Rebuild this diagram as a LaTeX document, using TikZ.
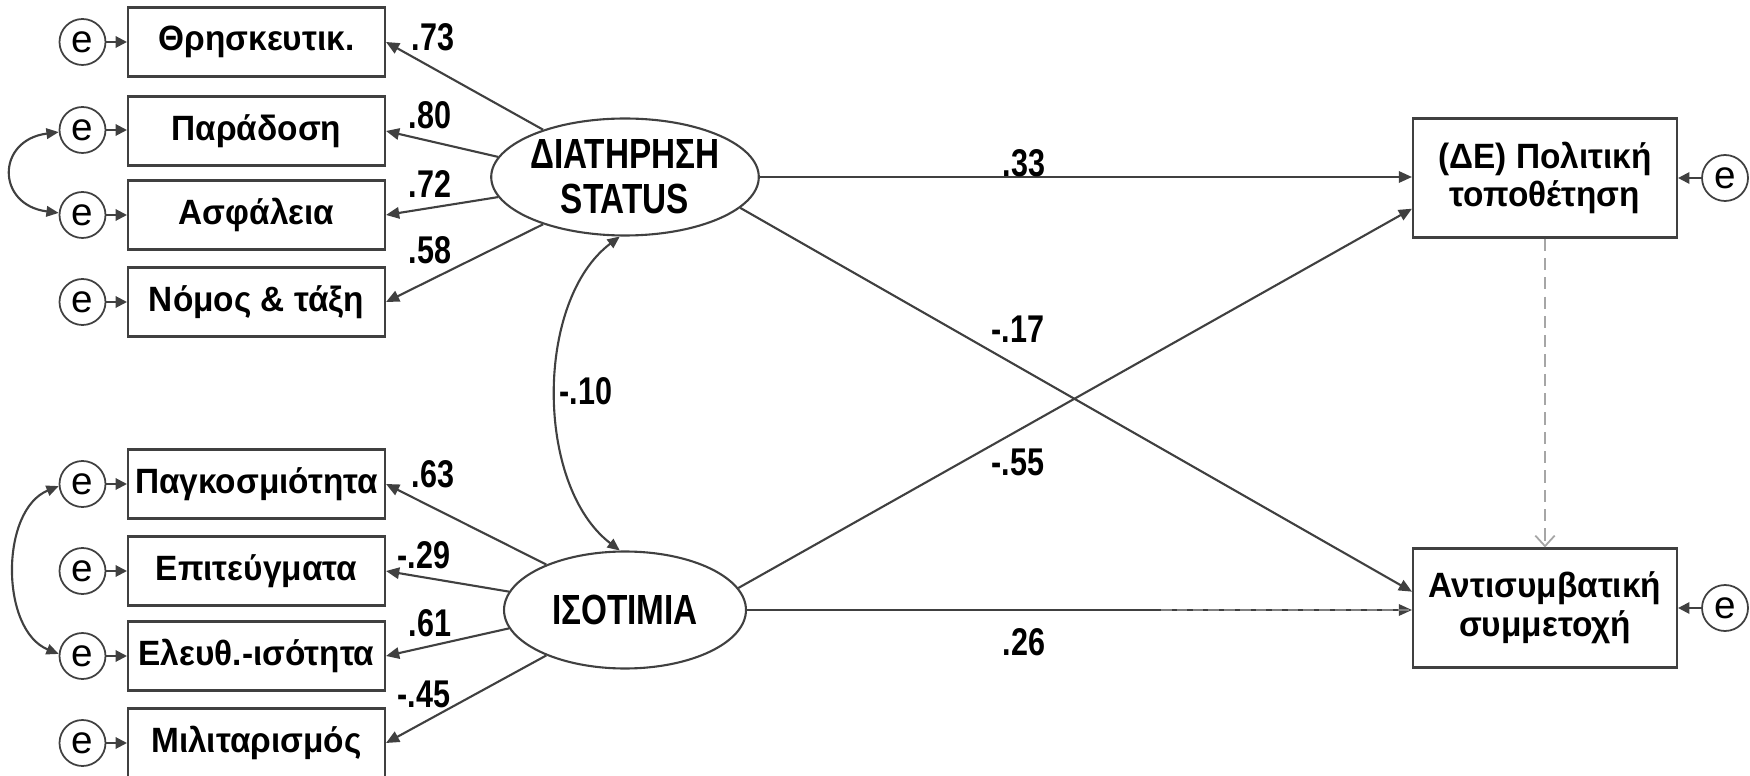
\documentclass[tikz,border=0pt]{standalone}
\usepackage{fontspec}
\setmainfont{Liberation Sans}
\newfontfamily\boxfont{Liberation Sans}[FakeStretch=0.95]
\newfontfamily\narrowfont{Liberation Sans}[FakeStretch=0.79]
\usetikzlibrary{arrows.meta,shapes.geometric}
\definecolor{ln}{HTML}{404040}
\definecolor{dg}{HTML}{A6A6A6}
\begin{document}
\begin{tikzpicture}[x=0.02cm,y=-0.02cm,
  obs/.style={draw=ln, line width=1.2pt, minimum width=5.14cm, minimum height=1.38cm, inner sep=0pt, font=\boxfont\fontsize{20}{22}\selectfont\bfseries},
  lat/.style={ellipse, draw=ln, line width=1.2pt, minimum width=4.84cm, minimum height=2.34cm, inner sep=0pt, align=center, font=\narrowfont\fontsize{24}{25.6}\selectfont\bfseries},
  dep/.style={draw=ln, line width=1.2pt, minimum width=5.28cm, minimum height=2.38cm, inner sep=0pt, align=center, font=\boxfont\fontsize{20}{22}\selectfont\bfseries},
  err/.style={circle, draw=ln, line width=1pt, minimum size=0.92cm, inner sep=0pt, font=\fontsize{22}{22}\selectfont},
  pth/.style={draw=ln, line width=1.2pt, -{Triangle[length=7.5pt,width=6.5pt]}},
  spth/.style={draw=ln, line width=1.2pt, -{Triangle[length=6.5pt,width=6.5pt]}},
  cov/.style={draw=ln, line width=1.2pt, {Triangle[length=7pt,width=6pt]}-{Triangle[length=7pt,width=6pt]}},
  coef/.style={font=\narrowfont\fontsize{22}{22}\selectfont\bfseries, inner sep=0pt}
]
\useasboundingbox (0,0) rectangle (1750,776);

% observed indicators
\node[obs] (b1) at (256.5,42) {Θρησκευτικ.};
\node[obs] (b2) at (256.5,131) {Παράδοση};
\node[obs] (b3) at (256.5,215) {Ασφάλεια};
\node[obs] (b4) at (256.5,302) {Νόμος \& τάξη};
\node[obs] (b5) at (256.5,484) {Παγκοσμιότητα};
\node[obs] (b6) at (256.5,571) {Επιτεύγματα};
\node[obs] (b7) at (256.5,656) {Ελευθ.-ισότητα};
\node[obs] (b8) at (256.5,743) {Μιλιταρισμός};

% error terms left
\foreach \i/\y in {1/42,2/130,3/215,4/302,5/484,6/571,7/656,8/743}{
  \node[err] (e\i) at (82.5,\y) {e};
  \draw[spth] (e\i.east) -- (e\i.east -| b\i.west);
}

% latent variables
\node[lat] (l1) at (625,177) {ΔΙΑΤΗΡΗΣΗ\\STATUS};
\node[lat] (l2) at (625,610) {ΙΣΟΤΙΜΙΑ};

% dependent variables
\node[dep] (de) at (1545,178) {(ΔΕ) Πολιτική\\τοποθέτηση};
\node[dep] (an) at (1545,608) {Αντισυμβατική\\συμμετοχή};
\node[err] (r1) at (1725,178) {e};
\node[err] (r2) at (1725,608) {e};
\draw[spth] (r1.west) -- (de.east);
\draw[spth] (r2.west) -- (an.east);

% loadings
\draw[pth] (l1.150) -- (b1.east);
\draw[pth] (l1.171) -- (b2.east);
\draw[pth] (l1.189) -- (b3.east);
\draw[pth] (l1.210) -- (b4.east);
\draw[pth] (l2.150) -- (b5.east);
\draw[pth] (l2.171) -- (b6.east);
\draw[pth] (l2.189) -- (b7.east);
\draw[pth] (l2.210) -- (b8.east);

\node[coef] (c1) at (433,37) {.73};
\node[coef] (c2) at (430,115) {.80};
\node[coef] (c3) at (430,184) {.72};
\node[coef] (c4) at (430,250) {.58};
\node[coef] (c5) at (433,474) {.63};
\node[coef] (c6) at (424,555) {-.29};
\node[coef] (c7) at (430,623) {.61};
\node[coef] (c8) at (424,694) {-.45};

% structural paths
\draw[pth] (l1.east) -- (l1.east -| de.west);
\draw[pth] (l1.-15) -- (an.173);
\draw[pth] (l2.11) -- (de.193);
\draw[pth] (l2.east) -- (l2.east -| an.west);
\path (l2.east) ++(414,0) coordinate (dstart);
\draw[gray, line width=1pt, dash pattern=on 6pt off 3pt] (dstart) -- (dstart -| an.west);
\draw[dg, line width=1pt, dash pattern=on 7pt off 4pt, -{Straight Barb[length=6pt,width=11pt]}] (de.south) -- (an.north);

\node[coef] (p1) at (1024,163) {.33};
\node[coef] (p2) at (1018,329) {-.17};
\node[coef] (p3) at (1018,462) {-.55};
\node[coef] (p4) at (1024,642) {.26};

% covariances
\draw[cov] (l1.265) .. controls +(-85,64) and +(-85,-65) .. (l2.95);
\node[coef] (cv) at (586,391) {-.10};
\draw[cov] (e2.185) .. controls (-4,140) and (-4,205) .. (e3.175);
\draw[cov] (e5.185) .. controls (0,510) and (0,630) .. (e7.175);
\end{tikzpicture}
\end{document}
